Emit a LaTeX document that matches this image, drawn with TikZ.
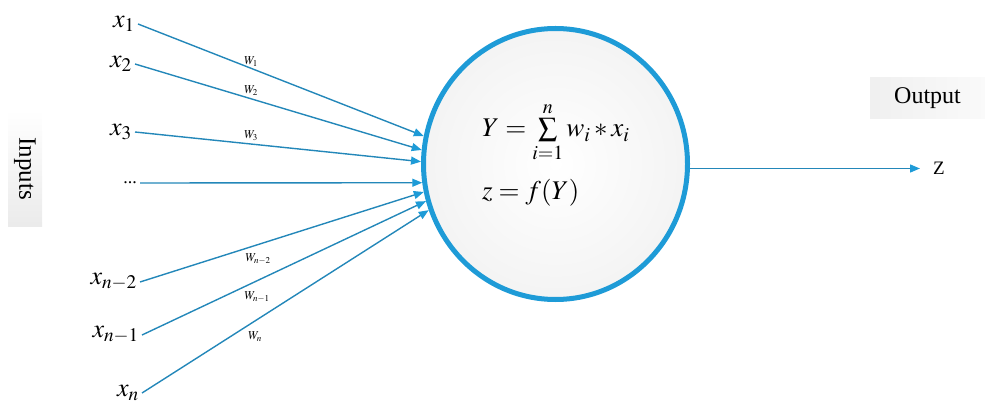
\documentclass[tikz,border=0pt]{standalone}
\usepackage{mathptmx}
\usepackage[no-math]{fontspec}
\setmainfont{Liberation Serif}
\usetikzlibrary{arrows.meta,shapes.geometric}
\definecolor{linec}{RGB}{35,135,185}
\definecolor{ringc}{RGB}{30,155,215}
\tikzset{
  inp/.style={anchor=east, inner sep=3pt, font=\fontsize{26}{30}\selectfont},
  wlab/.style={inner sep=0pt, font=\fontsize{12}{14}\selectfont},
  conn/.style={draw=linec, line width=1.4pt, -{Triangle[length=10pt,width=8pt,color=ringc]}},
  formula/.style={anchor=base west, inner sep=0pt, font=\fontsize{27}{32}\selectfont},
}
\begin{document}
\begin{tikzpicture}[x=1pt,y=1pt]
\useasboundingbox (0,0) rectangle (985,410);
% side labels
\node[rotate=-90, minimum width=117pt, minimum height=34pt, inner sep=0pt,
      top color=white, bottom color=gray!16, font=\fontsize{25}{30}\selectfont]
      (inputs) at (25,241.5) {Inputs};
\node[minimum width=115pt, minimum height=41pt, inner sep=0pt,
      left color=gray!12, right color=gray!4, font=\fontsize{24}{28}\selectfont]
      (outbox) at (927.5,311.5) {Output};
% neuron
\node[ellipse, draw=ringc, line width=5pt, minimum width=264pt, minimum height=271pt,
      inner sep=0pt, inner color=white, outer color=gray!9] (n) at (555.5,246) {};
\node[formula] (fY) at (482,273) {$Y=\sum\limits_{i=1}^{n} w_i \mathbin{*} x_i$};
\node[formula] (fz) at (482,210) {$z=f(Y)$};
% inputs
\node[inp] (x1) at (138,386) {$x_1$};
\node[inp] (x2) at (135,346) {$x_2$};
\node[inp] (x3) at (135,278) {$x_3$};
\node[inp, font=\fontsize{18}{20}\selectfont] (xd) at (140,227) {...};
\node[inp] (xn2) at (140,128) {$x_{n-2}$};
\node[inp] (xn1) at (142,75) {$x_{n-1}$};
\node[inp] (xn) at (142,17) {$x_n$};
% connectors
\draw[conn] (x1.east) -- (n.168.5);
\draw[conn] (x2.east) -- (n.174);
\draw[conn] (x3.east) -- (n.179);
\draw[conn] (xd.east) -- (n.188);
\draw[conn] (xn2.east) -- (n.192.3);
\draw[conn] (xn1.east) -- (n.196.3);
\draw[conn] (xn.east) -- (n.200.2);
% weights
\node[wlab] (w1) at (251,348) {$W_1$};
\node[wlab] (w2) at (251,319) {$W_2$};
\node[wlab] (w3) at (251,274) {$W_3$};
\node[wlab] (wn2) at (258,151) {$W_{n-2}$};
\node[wlab] (wn1) at (257,113) {$W_{n-1}$};
\node[wlab] (wn) at (255,73) {$W_n$};
% output
\node[anchor=west, inner sep=0pt, font=\fontsize{19}{22}\selectfont] (z) at (933,241.5) {Z};
\draw[conn, shorten >=13pt] (n.east |- z.west) -- (z.west);
\end{tikzpicture}
\end{document}
